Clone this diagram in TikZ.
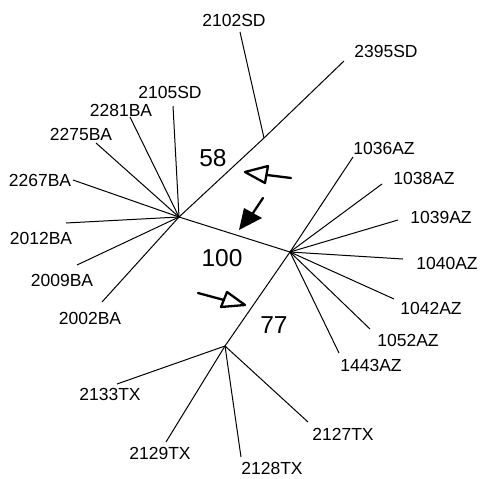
\documentclass[tikz,border=0pt]{standalone}
\usepackage{fontspec}
\setmainfont{Liberation Sans}
\begin{document}
\begin{tikzpicture}[x=1pt,y=-1pt,
  branch/.style={line width=1pt},
  leaflabel/.style={inner sep=0pt,font=\fontsize{17.5}{18}\selectfont},
  support/.style={inner sep=0pt,font=\fontsize{24.5}{26}\selectfont},
  openhead/.style={line width=2.3pt,line join=round,line cap=round},
  markshaft/.style={line width=2.3pt,line cap=round}]
\useasboundingbox (0,0) rectangle (480,479);

% internal vertices of the tree
\coordinate (ba) at (179,217);
\coordinate (az) at (290,252);
\coordinate (tx) at (225,346);
\coordinate (sd) at (264,138);

% leaf tips
\coordinate (t2102SD) at (240,32);
\coordinate (t2395SD) at (344,61);
\coordinate (t2105SD) at (173,106);
\coordinate (t2281BA) at (130,117);
\coordinate (t2275BA) at (96,143);
\coordinate (t2267BA) at (73,180);
\coordinate (t2012BA) at (66,223);
\coordinate (t2009BA) at (77,265);
\coordinate (t2002BA) at (102,302);
\coordinate (t1036AZ) at (353,157);
\coordinate (t1038AZ) at (382,184);
\coordinate (t1039AZ) at (398,220);
\coordinate (t1040AZ) at (403,259);
\coordinate (t1042AZ) at (394,299);
\coordinate (t1052AZ) at (370,329);
\coordinate (t1443AZ) at (339,353);
\coordinate (t2133TX) at (117,384);
\coordinate (t2129TX) at (166,442);
\coordinate (t2128TX) at (241,457);
\coordinate (t2127TX) at (308,422);

% taxon labels
\node[leaflabel] (l2102SD) at (234,20) {2102SD};
\node[leaflabel] (l2395SD) at (386,51) {2395SD};
\node[leaflabel] (l2105SD) at (170,92) {2105SD};
\node[leaflabel] (l2281BA) at (121,110) {2281BA};
\node[leaflabel] (l2275BA) at (81,134) {2275BA};
\node[leaflabel] (l2267BA) at (40,180) {2267BA};
\node[leaflabel] (l2012BA) at (41,238) {2012BA};
\node[leaflabel] (l2009BA) at (62,280) {2009BA};
\node[leaflabel] (l2002BA) at (90,318) {2002BA};
\node[leaflabel] (l1036AZ) at (384,148) {1036AZ};
\node[leaflabel] (l1038AZ) at (424,178) {1038AZ};
\node[leaflabel] (l1039AZ) at (441,217) {1039AZ};
\node[leaflabel] (l1040AZ) at (447,263) {1040AZ};
\node[leaflabel] (l1042AZ) at (431,308) {1042AZ};
\node[leaflabel] (l1052AZ) at (408,340) {1052AZ};
\node[leaflabel] (l1443AZ) at (371,365) {1443AZ};
\node[leaflabel] (l2133TX) at (110,394) {2133TX};
\node[leaflabel] (l2129TX) at (160,453) {2129TX};
\node[leaflabel] (l2128TX) at (272,468) {2128TX};
\node[leaflabel] (l2127TX) at (343,434) {2127TX};

% bootstrap values
\node[support] (b58) at (213,158) {58};
\node[support] (b100) at (222,258) {100};
\node[support] (b77) at (274,325) {77};

% internal branches
\draw[branch] (ba) -- (sd) -- (t2395SD);
\draw[branch] (sd) -- (t2102SD);
\draw[branch] (ba) -- (az);
\draw[branch] (az) -- (tx);

% terminal branches
\foreach \t in {2105SD,2281BA,2275BA,2267BA,2012BA,2009BA,2002BA}
  \draw[branch] (ba) -- (t\t);
\foreach \t in {1036AZ,1038AZ,1039AZ,1040AZ,1042AZ,1052AZ,1443AZ}
  \draw[branch] (az) -- (t\t);
\foreach \t in {2133TX,2129TX,2128TX,2127TX}
  \draw[branch] (tx) -- (t\t);

% pointer arrows
\coordinate (p1tail) at (291,178);
\coordinate (p1base) at (267,175);
\draw[markshaft] (p1tail) -- (p1base);
\draw[openhead] (245,172) -- (268,166) -- (265,183) -- cycle;

\coordinate (p2tail) at (263,198);
\coordinate (p2base) at (253,213);
\draw[markshaft] (p2tail) -- (p2base);
\fill (239,230) -- (244,208) -- (262,218) -- cycle;

\coordinate (p3tail) at (198,293);
\coordinate (p3base) at (224,300);
\draw[markshaft] (p3tail) -- (p3base);
\draw[openhead] (245,305) -- (227,292) -- (221,307) -- cycle;
\end{tikzpicture}
\end{document}
